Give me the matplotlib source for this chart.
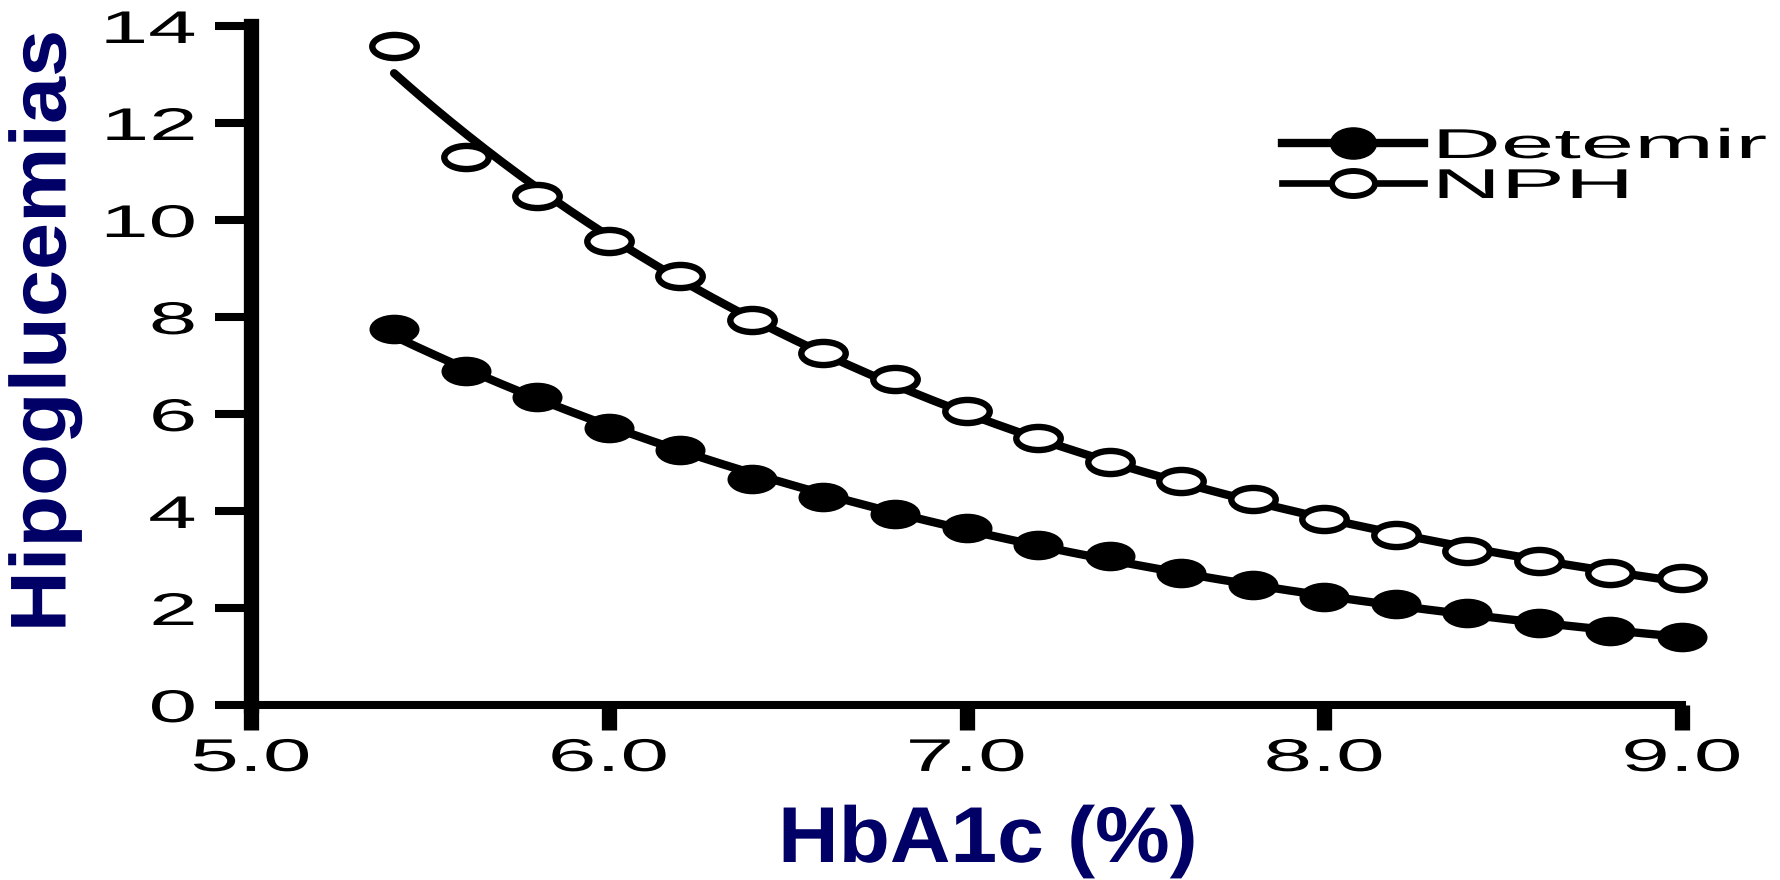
import numpy as np
import matplotlib
matplotlib.use("Agg")
import matplotlib.pyplot as plt
from matplotlib.markers import MarkerStyle
from matplotlib.transforms import Affine2D
from matplotlib.patheffects import AbstractPathEffect
from matplotlib.lines import Line2D

# ---------------- data ----------------
hba1c = [5.4, 5.6, 5.8, 6.0, 6.2, 6.4, 6.6, 6.8, 7.0, 7.2,
         7.4, 7.6, 7.8, 8.0, 8.2, 8.4, 8.6, 8.8, 9.0]
detemir = [7.75, 6.88, 6.35, 5.72, 5.25, 4.67, 4.29, 3.94, 3.64, 3.29,
           3.08, 2.73, 2.47, 2.22, 2.08, 1.89, 1.70, 1.52, 1.40]
nph = [13.58, 11.30, 10.50, 9.57, 8.84, 7.93, 7.26, 6.72, 6.07, 5.50,
       5.02, 4.62, 4.25, 3.83, 3.50, 3.17, 2.96, 2.73, 2.61]
series_labels = ["Detemir", "NPH"]
x_ticks = [5.0, 6.0, 7.0, 8.0, 9.0]
x_tick_labels = ["5.0", "6.0", "7.0", "8.0", "9.0"]
y_ticks = [0, 2, 4, 6, 8, 10, 12, 14]
y_tick_labels = ["0", "2", "4", "6", "8", "10", "12", "14"]
x_label = "HbA1c (%)"
y_label = "Hipoglucemias"


# horizontal stretch of glyphs (the source picture is stretched sideways)
class StretchX(AbstractPathEffect):
    def __init__(self, sx, anchor="center"):
        super().__init__()
        self.sx = sx
        self.anchor = anchor

    def draw_path(self, renderer, gc, tpath, affine, rgbFace=None):
        ext = tpath.get_extents()
        if self.anchor == "center":
            cx = 0.5 * (ext.x0 + ext.x1)
        elif self.anchor == "right":
            cx = ext.x1
        else:
            cx = ext.x0
        t = Affine2D().translate(-cx, 0).scale(self.sx, 1).translate(cx, 0) + affine
        renderer.draw_path(gc, tpath, t, rgbFace)


W, H = 1780, 880
fig = plt.figure(figsize=(W / 100, H / 100), dpi=100)
fig.patch.set_facecolor("white")
ax = fig.add_axes([251 / W, 1 - 705 / H, (1682 - 251) / W, (705 - 26) / H])

# trend curves fitted to the points (quadratic in log space)
xs = np.array(hba1c)
xf = np.linspace(xs[0], xs[-1], 300)
for vals in (detemir, nph):
    c = np.polyfit(xs, np.log(np.array(vals)), 2)
    ax.plot(xf, np.exp(np.polyval(c, xf)), color="black", lw=6.0,
            solid_capstyle="round", zorder=2)

m_fill = MarkerStyle("o", transform=Affine2D().scale(1.0, 0.58))
m_open = MarkerStyle("o", transform=Affine2D().scale(1.0, 0.52))
ax.plot(hba1c, detemir, linestyle="none", marker=m_fill, markersize=35,
        markerfacecolor="black", markeredgecolor="black", markeredgewidth=1,
        zorder=3, clip_on=False)
ax.plot(hba1c, nph, linestyle="none", marker=m_open, markersize=32,
        markerfacecolor="white", markeredgecolor="black", markeredgewidth=4.6,
        zorder=3, clip_on=False)

ax.set_xlim(5.0, 9.0)
ax.set_ylim(0, 14)
ax.set_xticks(x_ticks)
ax.set_xticklabels(x_tick_labels)
ax.set_yticks(y_ticks)
ax.set_yticklabels(y_tick_labels)

for s in ("top", "right"):
    ax.spines[s].set_visible(False)
ax.spines["left"].set_linewidth(11)
ax.spines["bottom"].set_linewidth(5.8)
ax.spines["left"].set_zorder(4)

ax.tick_params(axis="x", direction="out", length=18, width=11, pad=5,
               labelsize=33, colors="black")
ax.tick_params(axis="y", direction="out", length=26, width=5.8, pad=14,
               labelsize=33, colors="black")
for lbl in ax.get_xticklabels():
    lbl.set_fontfamily("Liberation Sans")
    lbl.set_path_effects([StretchX(1.9, "center")])
for lbl in ax.get_yticklabels():
    lbl.set_fontfamily("Liberation Sans")
    lbl.set_path_effects([StretchX(1.9, "right")])

# legend
h1 = Line2D([], [], color="black", lw=6.0,
            marker=MarkerStyle("o", transform=Affine2D().scale(1.0, 0.68)),
            markersize=33, markerfacecolor="black", markeredgecolor="black")
h2 = Line2D([], [], color="black", lw=4.8,
            marker=MarkerStyle("o", transform=Affine2D().scale(1.0, 0.58)),
            markersize=31, markerfacecolor="white", markeredgecolor="black",
            markeredgewidth=4.3)
leg = ax.legend([h1, h2], series_labels, loc="upper left",
                bbox_to_anchor=(1282 / W, 1 - 127 / H),
                bbox_transform=fig.transFigure, frameon=False,
                prop={"family": "Liberation Sans", "size": 30},
                handlelength=3.4, handletextpad=0.3, labelspacing=0.0,
                borderpad=0, borderaxespad=0, numpoints=1)
for t in leg.get_texts():
    t.set_path_effects([StretchX(2.3, "left")])

navy = "#000066"
fig.text(988 / W, 1 - 862 / H, x_label, ha="center", va="baseline",
         fontsize=57, fontweight="bold", family="Liberation Sans", color=navy,
         path_effects=[StretchX(1.06, "center")])
fig.text(45 / W, 1 - 331 / H, y_label, ha="center", va="center", rotation=90,
         fontsize=57, fontweight="bold", family="Liberation Sans", color=navy,
         path_effects=[StretchX(1.07, "center")])

fig.savefig("out.png", dpi=100)
